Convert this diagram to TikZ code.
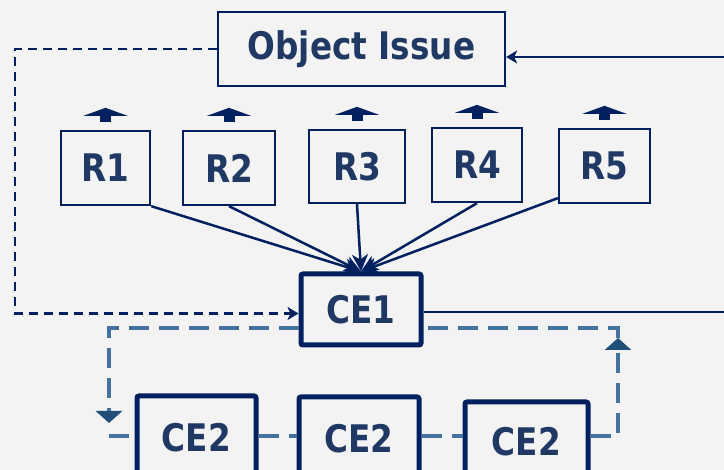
\documentclass[tikz,border=0pt]{standalone}
\usepackage{fontspec}
\setsansfont{DejaVu Sans}
\usetikzlibrary{arrows.meta}
\definecolor{navy}{RGB}{0,32,96}
\definecolor{textblue}{RGB}{31,56,100}
\definecolor{steel}{RGB}{68,114,160}
\definecolor{tipblue}{RGB}{31,78,121}
\definecolor{paper}{RGB}{243,243,243}
\newcommand{\lbl}[1]{\scalebox{0.86}[1]{#1}}
\tikzset{
  every node/.style={font=\sffamily\bfseries\fontsize{38}{40}\selectfont, text=textblue},
  thinbox/.style={draw=navy, line width=2.3pt, fill=paper, inner sep=0pt},
  thickbox/.style={draw=navy, line width=5pt, fill=paper, inner sep=0pt, rounded corners=2pt},
  feed/.style={draw=navy, line width=2.5pt, -{Stealth[length=17pt,width=16pt,inset=5pt]}},
  flowline/.style={draw=navy, line width=2.8pt},
  smalltip/.style={-{Stealth[length=11pt,width=13pt,inset=3pt]}},
  issueline/.style={draw=navy, line width=2.8pt, dash pattern=on 9pt off 6pt},
  cycleline/.style={draw=steel, line width=4pt, dash pattern=on 20pt off 10pt},
  cycletip/.style={-{Triangle[width=26pt,length=12pt,color=tipblue]}},
  uptick/.style={draw=navy, line width=11pt, -{Triangle[width=44pt,length=8pt]}},
}
\begin{document}
\begin{tikzpicture}[x=1pt,y=-1pt]
  \useasboundingbox (0,0) rectangle (724,470);
  \clip (0,0) rectangle (724,470);
  \fill[paper] (0,0) rectangle (724,470);

  % coordinates for the loose ends
  \coordinate (rin) at (730,57);
  \coordinate (rout) at (730,312);
  \coordinate (lc) at (15,49);
  \coordinate (lb) at (109,423);
  \coordinate (lbot) at (109,436);
  \coordinate (rb) at (618,338);

  \node[thinbox, minimum width=287pt, minimum height=74pt] (issue) at (361.5,49) {\lbl{Object Issue}};

  \node[thinbox, minimum width=89pt, minimum height=74pt] (R1) at (105.5,168) {\lbl{R1}};
  \node[thinbox, minimum width=92pt, minimum height=74pt] (R2) at (229,168) {\lbl{R2}};
  \node[thinbox, minimum width=96pt, minimum height=73pt] (R3) at (357,166.5) {\lbl{R3}};
  \node[thinbox, minimum width=90pt, minimum height=74pt] (R4) at (477,165) {\lbl{R4}};
  \node[thinbox, minimum width=91pt, minimum height=74pt] (R5) at (604.5,166) {\lbl{R5}};

  \node[thickbox, minimum width=120pt, minimum height=71pt] (CE1) at (361,309.5) {\lbl{CE1}};

  \node[thickbox, minimum width=119pt, minimum height=84pt] (CE2a) at (196.5,438) {\lbl{CE2}};
  \node[thickbox, minimum width=120pt, minimum height=84pt] (CE2b) at (359,439) {\lbl{CE2}};
  \node[thickbox, minimum width=123pt, minimum height=80pt] (CE2c) at (526.5,442) {\lbl{CE2}};

  % small arrows over the R boxes
  \foreach \r in {R1,R2,R3,R4,R5}
    \draw[uptick] ([yshift=8pt]\r.north) -- ([yshift=22pt]\r.north);

  % R boxes into CE1
  \draw[feed] (R1.south east) -- (CE1.north);
  \draw[feed] (R2.south) -- (CE1.north);
  \draw[feed] (R3.south) -- (CE1.north);
  \draw[feed] (R4.south) -- (CE1.north);
  \draw[feed] ([yshift=6pt]R5.south west) -- (CE1.north);

  % object issue links
  \draw[flowline, smalltip] (rin) -- (issue.east |- rin);
  \draw[issueline, smalltip] (issue.west) -- (lc) |- ([yshift=-4pt]CE1.west);
  \draw[flowline] ([yshift=-2.5pt]CE1.east) -- (rout);

  % CE1 / CE2 cycle
  \draw[cycleline, cycletip] ([yshift=-18.5pt]CE1.west) -| (lb);
  \draw[cycleline] (lbot) -- (CE2a.west |- lbot);
  \draw[cycleline] (CE2a.east |- lbot) -- (CE2b.west |- lbot);
  \draw[cycleline] (CE2b.east |- lbot) -- (CE2c.west |- lbot);
  \draw[cycleline, cycletip] (CE2c.east |- lbot) -| (rb);
  \draw[cycleline] (rb) |- ([yshift=-18.5pt]CE1.east);
\end{tikzpicture}
\end{document}
